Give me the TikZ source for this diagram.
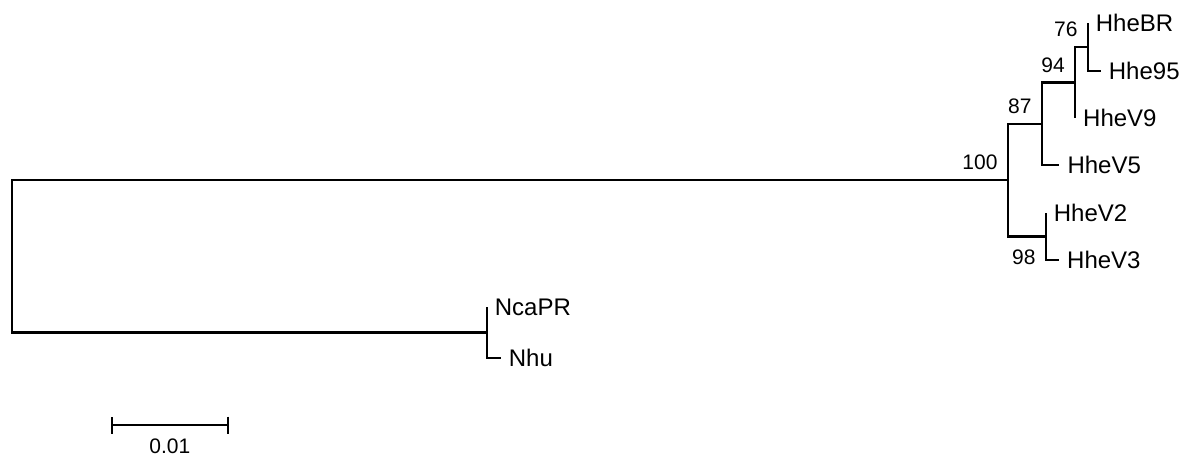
\documentclass[tikz,border=0pt]{standalone}
\usepackage{fontspec}
\setmainfont{Liberation Sans}
\usetikzlibrary{arrows.meta}
\begin{document}
\begin{tikzpicture}[x=1pt,y=-1pt,
  branch/.style={line width=2.2pt},
  taxon/.style={anchor=west,inner sep=0pt,xshift=8pt,font=\fontsize{24}{28}\selectfont},
  boot/.style={anchor=east,inner sep=0pt,font=\fontsize{21}{25}\selectfont}]
\useasboundingbox (0,0) rectangle (1199,457);

% internal nodes
\coordinate (root) at (12,256);
\coordinate (n100) at (1007.7,180.1);
\coordinate (nN)   at (486.7,332.4);
\coordinate (n87)  at (1041.7,123.8);
\coordinate (n98)  at (1045.7,236.4);
\coordinate (n94)  at (1075,82.6);
\coordinate (n76)  at (1087.7,47.2);

% tips
\coordinate (tBR)  at (1087.7,23.3);
\coordinate (t95)  at (1100.7,71);
\coordinate (tV9)  at (1075,118);
\coordinate (tV5)  at (1059.3,165);
\coordinate (tV2)  at (1045.7,212.7);
\coordinate (tV3)  at (1059,260);
\coordinate (tNca) at (486.7,307);
\coordinate (tNhu) at (500.7,357.7);

% branches
\draw[branch] (root) |- (n100);
\draw[branch] (root) |- (nN);
\draw[branch] (n100) |- (n87);
\draw[branch] (n100) |- (n98);
\draw[branch] (n87) |- (n94);
\draw[branch] (n87) |- (tV5);
\draw[branch] (n94) |- (n76);
\draw[branch] (n94) |- (tV9);
\draw[branch] (n76) |- (tBR);
\draw[branch] (n76) |- (t95);
\draw[branch] (n98) |- (tV2);
\draw[branch] (n98) |- (tV3);
\draw[branch] (nN) |- (tNca);
\draw[branch] (nN) |- (tNhu);

% taxon names
\node[taxon] (lBR)  at (tBR)  {HheBR};
\node[taxon] (l95)  at (t95)  {Hhe95};
\node[taxon] (lV9)  at (tV9)  {HheV9};
\node[taxon] (lV5)  at (tV5)  {HheV5};
\node[taxon] (lV2)  at (tV2)  {HheV2};
\node[taxon] (lV3)  at (tV3)  {HheV3};
\node[taxon] (lNca) at (tNca) {NcaPR};
\node[taxon] (lNhu) at (tNhu) {Nhu};

% bootstrap values
\node[boot] (b76)  at ([shift={(-10,-17.5)}]n76)  {76};
\node[boot] (b94)  at ([shift={(-10,-17.5)}]n94)  {94};
\node[boot] (b87)  at ([shift={(-10,-17.5)}]n87)  {87};
\node[boot] (b100) at ([shift={(-10,-17.5)}]n100) {100};
\node[boot] (b98)  at ([shift={(-10,21)}]n98)     {98};

% scale bar
\coordinate (sbL) at (110.7,425);
\coordinate (sbR) at (229,425);
\draw[branch,{Bar[width=17pt,line width=2.2pt]}-{Bar[width=17pt,line width=2.2pt]}] (sbL) -- (sbR);
\node[inner sep=0pt,font=\fontsize{21}{25}\selectfont] (sbT) at (169.8,446.5) {0.01};
\end{tikzpicture}
\end{document}
